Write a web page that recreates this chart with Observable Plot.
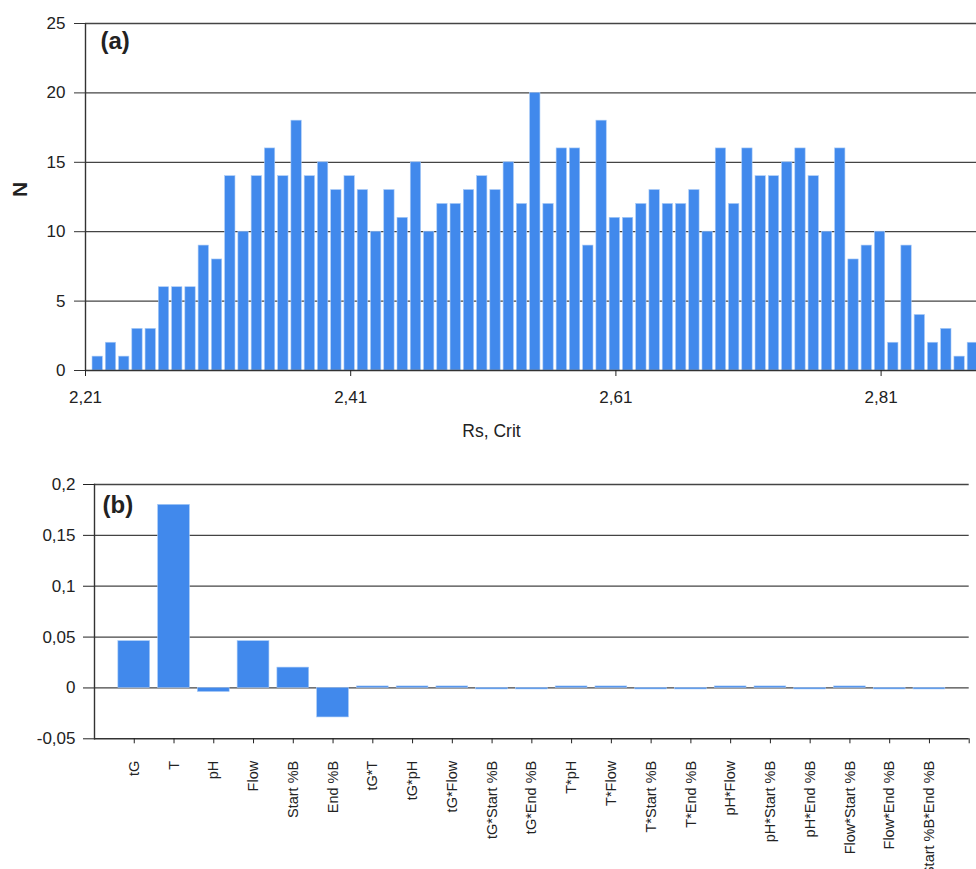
<!DOCTYPE html>
<html>
<head>
<meta charset="utf-8">
<script src="https://cdn.jsdelivr.net/npm/d3@7"></script>
<script src="https://cdn.jsdelivr.net/npm/@observablehq/plot@0.6"></script>
<style>
  html, body { margin: 0; padding: 0; background: #fff; overflow: hidden; }
  #chart svg { display: block; }
</style>
</head>
<body>
<div id="chart"></div>
<script>
// ---------- Panel (a): histogram of Rs, Crit ----------
const rsBinStart = 2.21;
const rsBinWidth = 0.01;
const rsCounts = [1,2,1,3,3,6,6,6,9,8,14,10,14,16,14,18,14,15,13,14,13,10,13,11,15,10,12,12,13,14,13,15,12,20,12,16,16,9,18,11,11,12,13,12,12,13,10,16,12,16,14,14,15,16,14,10,16,8,9,10,2,9,4,2,3,1,2];
const rsTicks = [2.21, 2.41, 2.61, 2.81];
const nTicks = [0, 5, 10, 15, 20, 25];

// ---------- Panel (b): effects ----------
const effectNames = ["tG","T","pH","Flow","Start %B","End %B","tG*T","tG*pH","tG*Flow","tG*Start %B","tG*End %B","T*pH","T*Flow","T*Start %B","T*End %B","pH*Flow","pH*Start %B","pH*End %B","Flow*Start %B","Flow*End %B","Start %B*End %B"];
const effectValues = [0.046,0.18,-0.004,0.046,0.02,-0.029,0.0015,0.0015,0.0015,-0.0015,-0.0015,0.0015,0.0015,-0.0015,-0.0015,0.0015,0.0015,-0.0015,0.0015,-0.0015,-0.0015];
const effectTicks = [-0.05, 0, 0.05, 0.1, 0.15, 0.2];

const BLUE = "#4189ec";
const GRID = "#444";
const FONT = "'Liberation Sans', Arial, sans-serif";
const comma = d => d === 0 ? "0" : String(d).replace(".", ",");

const histData = rsCounts.map((n, i) => ({lo: rsBinStart + i * rsBinWidth, n}));

const chartA = Plot.plot({
  width: 976,
  height: 450,
  marginLeft: 85,
  marginRight: 0,
  marginTop: 23,
  marginBottom: 80,
  style: {fontFamily: FONT, fontSize: "17px", color: "#222", background: "#fff"},
  x: {domain: [rsBinStart, rsBinStart + 891 / 1326], range: [85, 976]},
  y: {domain: [0, 25]},
  marks: [
    Plot.ruleY(nTicks.filter(d => d > 0), {stroke: GRID, strokeWidth: 1.3}),
    Plot.rect(histData, {
      x1: d => d.lo + 0.0053,
      x2: d => d.lo + 0.0131,
      y1: 0,
      y2: "n",
      fill: BLUE,
      stroke: "#a9cbf7",
      strokeWidth: 0.6,
      clip: true
    }),
    Plot.ruleY([0], {stroke: "#333", strokeWidth: 1.4}),
    Plot.ruleX([rsBinStart], {y1: 0, y2: 25, stroke: "#333", strokeWidth: 1.4}),
    Plot.axisY({ticks: nTicks, tickSize: 11, tickPadding: 9, stroke: "#333", label: null, fontSize: 17}),
    Plot.axisX({ticks: rsTicks, tickFormat: d => d.toFixed(2).replace(".", ","), tickSize: 6, tickPadding: 14, label: null, fontSize: 17}),
    Plot.text(["(a)"], {text: d => d, frameAnchor: "top-left", dx: 15, dy: 8, lineAnchor: "top", textAnchor: "start", fontWeight: "bold", fontSize: 24}),
    Plot.text(["N"], {text: d => d, frameAnchor: "left", dx: -65, rotate: -90, fontSize: 21, fontWeight: 600}),
    Plot.text(["Rs, Crit"], {text: d => d, frameAnchor: "bottom", dx: -39.5, dy: 66, fontSize: 17.5})
  ]
});

// category i sits at position i + 1 on a 0..22 axis; an unlabeled tick closes the axis at 22
const effData = effectNames.map((name, i) => ({pos: i + 1, name, v: effectValues[i]}));
const axisEnd = effectNames.length + 1;
const catTicks = effData.map(d => d.pos).concat([axisEnd]);

const chartB = Plot.plot({
  width: 976,
  height: 419,
  marginLeft: 94,
  marginRight: 7.3,
  marginTop: 34,
  marginBottom: 130.7,
  style: {fontFamily: FONT, fontSize: "17px", color: "#222", background: "#fff"},
  x: {domain: [0, axisEnd]},
  y: {domain: [-0.05, 0.2]},
  marks: [
    Plot.ruleY(effectTicks.filter(d => d > -0.05), {stroke: GRID, strokeWidth: 1.3}),
    Plot.rect(effData, {x1: d => d.pos - 0.4, x2: d => d.pos + 0.4, y1: 0, y2: "v", fill: BLUE, stroke: "#a9cbf7", strokeWidth: 0.6}),
    Plot.ruleY([-0.05], {stroke: "#333", strokeWidth: 1.4}),
    Plot.frame({anchor: "left", stroke: "#333", strokeWidth: 1.4}),
    Plot.axisY({ticks: effectTicks, tickFormat: comma, tickSize: 11, tickPadding: 8, label: null, fontSize: 17}),
    Plot.axisX({ticks: catTicks, tickFormat: p => effectNames[p - 1] ?? "", tickSize: 5, tickPadding: 17, tickRotate: -90, label: null, fontSize: 14.5}),
    Plot.text(["(b)"], {text: d => d, frameAnchor: "top-left", dx: 8, dy: 11, lineAnchor: "top", textAnchor: "start", fontWeight: "bold", fontSize: 24})
  ]
});

document.getElementById("chart").append(chartA, chartB);
</script>
</body>
</html>
